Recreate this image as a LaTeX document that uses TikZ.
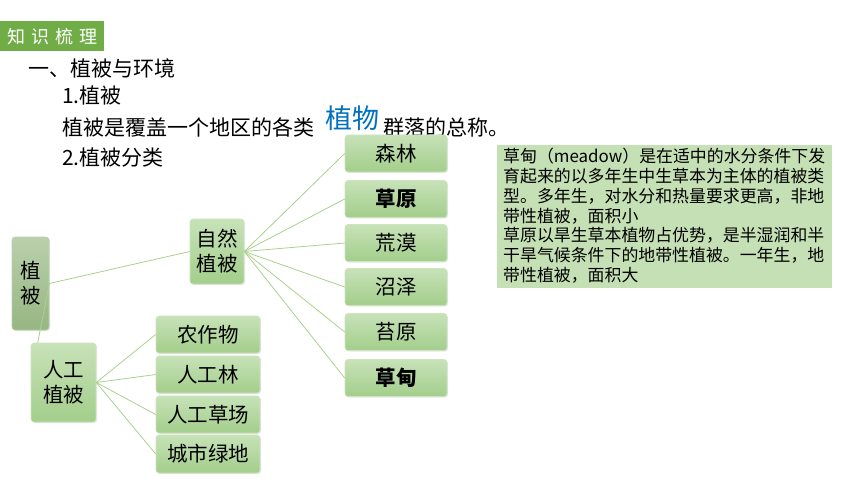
\documentclass[tikz,border=0pt]{standalone}
\usepackage{fontspec}
\setmainfont{Noto Sans CJK SC}
\usetikzlibrary{shadows}
\definecolor{hdr}{RGB}{112,173,71}
\definecolor{btop}{RGB}{199,226,184}
\definecolor{bbot}{RGB}{163,206,139}
\definecolor{bedge}{RGB}{205,228,192}
\definecolor{rtop}{RGB}{186,208,172}
\definecolor{rbot}{RGB}{150,182,130}
\definecolor{lnk}{RGB}{169,209,142}
\definecolor{tbox}{RGB}{197,224,180}
\definecolor{blu}{RGB}{0,112,192}
\tikzset{
  gbox/.style={rectangle, rounded corners=3pt, top color=btop, bottom color=bbot, draw=bedge, line width=0.6pt,
    inner sep=0pt, align=center, font=\fontsize{20.5}{25}\selectfont, text=black,
    drop shadow={opacity=0.2, shadow xshift=1pt, shadow yshift=-1pt}},
  rbox/.style={gbox, top color=rtop, bottom color=rbot, draw=rtop},
  link/.style={draw=lnk, line width=0.8pt},
  ttl/.style={anchor=west, inner sep=0pt, font=\fontsize{21}{25}\selectfont, text=black}
}
\begin{document}
\begin{tikzpicture}[x=1pt,y=-1pt]
\useasboundingbox (0,0) rectangle (860,484);
% header
\node[fill=hdr, minimum width=104pt, minimum height=30pt, inner sep=0pt, anchor=north west, text=white,
  font=\fontsize{18}{20}\selectfont] (hdr) at (0,21) {知\hspace{6pt}识\hspace{6pt}梳\hspace{6pt}理};
% titles
\node[ttl] (t1) at (28,68) {一、植被与环境};
\node[ttl] (t2) at (62,95) {1.植被};
\node[ttl] (t3a) at (62,127) {植被是覆盖一个地区的各类};
\node[ttl, font=\fontsize{27}{30}\selectfont, text=blu] (t3b) at (325,118) {植物};
\node[ttl] (t3c) at (383,127) {群落的总称。};
\node[ttl] (t4) at (62,157) {2.植被分类};
% hierarchy
\node[rbox, minimum width=37pt, minimum height=93pt] (zb) at (30.5,283.5) {植\\被};
\node[gbox, minimum width=54pt, minimum height=65pt] (zr) at (217,251.5) {自然\\植被};
\node[gbox, minimum width=65pt, minimum height=79pt] (rg) at (63.5,382.5) {人工\\植被};
\node[gbox, minimum width=102pt, minimum height=37pt] (sl) at (396,153.5) {森林};
\node[gbox, minimum width=102pt, minimum height=37pt, font=\fontsize{20.5}{25}\selectfont\bfseries] (cy) at (396,199) {草原};
\node[gbox, minimum width=102pt, minimum height=37pt] (hm) at (396,243) {荒漠};
\node[gbox, minimum width=102pt, minimum height=37pt] (zz) at (396,287) {沼泽};
\node[gbox, minimum width=102pt, minimum height=37pt] (ty) at (396,332) {苔原};
\node[gbox, minimum width=102pt, minimum height=37pt, font=\fontsize{20.5}{25}\selectfont\bfseries] (cd) at (396,378) {草甸};
\node[gbox, minimum width=104pt, minimum height=37pt] (nzw) at (208,334.5) {农作物};
\node[gbox, minimum width=104pt, minimum height=37pt] (rgl) at (208,374.5) {人工林};
\node[gbox, minimum width=104pt, minimum height=37pt] (rgc) at (208,414.5) {人工草场};
\node[gbox, minimum width=104pt, minimum height=38pt] (cs) at (208,454) {城市绿地};
% connectors
\coordinate (rgtop) at ([xshift=7pt]rg.north west);
\draw[link] (zb.east) -- (zr.west);
\draw[link] (zb.east) -- (rgtop);
\foreach \t in {sl,cy,hm,zz,ty,cd} \draw[link] (zr.east) -- (\t.west);
\foreach \t in {nzw,rgl,rgc,cs} \draw[link] (rg.east) -- (\t.west);
% text box
\node[fill=tbox, minimum width=335pt, minimum height=143pt, anchor=north west, inner sep=0pt] (tb) at (497,145) {};
\node[anchor=north west, inner sep=0pt, align=left, font=\fontsize{16.9}{19.8}\selectfont] (tbt) at (503,148)
{草甸（meadow）是在适中的水分条件下发\\育起来的以多年生中生草本为主体的植被类\\型。多年生，对水分和热量要求更高，非地\\带性植被，面积小\\草原以旱生草本植物占优势，是半湿润和半\\干旱气候条件下的地带性植被。一年生，地\\带性植被，面积大};
\end{tikzpicture}
\end{document}
